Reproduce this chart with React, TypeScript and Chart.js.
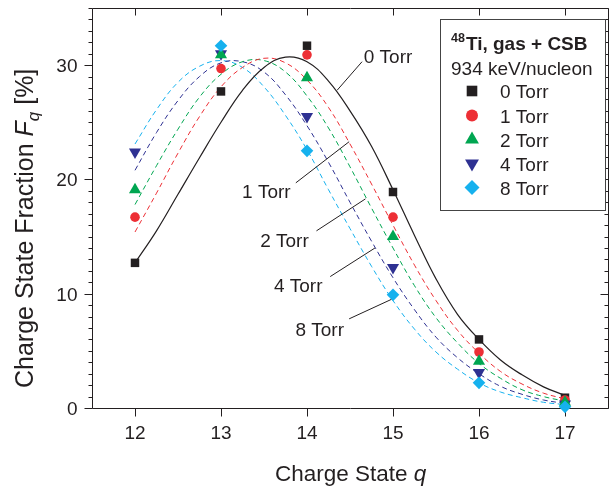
import React, { useEffect, useRef } from 'react';
import { Chart, registerables } from 'chart.js';

Chart.register(...registerables);

// ---- data ----
const chargeStates = [12, 13, 14, 15, 16, 17];
const frac0Torr = [12.7, 27.7, 31.7, 18.9, 6.0, 0.9];
const frac1Torr = [16.7, 29.7, 30.9, 16.7, 4.9, 0.7];
const frac2Torr = [19.1, 30.9, 28.9, 15.0, 4.1, 0.5];
const frac4Torr = [22.4, 31.0, 25.5, 12.3, 3.1, 0.35];
const frac8Torr = [null, 31.7, 22.5, 9.9, 2.2, 0.1];

const fitCharge = [12, 12.25, 12.5, 12.75, 13, 13.25, 13.5, 13.75, 14, 14.25, 14.5, 14.75, 15, 15.25, 15.5, 15.75, 16, 16.25, 16.5, 16.75, 17];
const fit0Torr = [12.7, 15.5, 18.7, 21.9, 25.0, 27.8, 29.8, 30.7, 30.3, 28.6, 26.0, 22.9, 19.1, 15.1, 11.3, 8.2, 6.0, 4.2, 2.9, 1.85, 1.1];
const fit1Torr = [15.4, 18.8, 22.3, 25.5, 28.1, 29.8, 30.6, 30.2, 28.7, 26.3, 23.1, 19.6, 16.0, 12.5, 9.4, 6.8, 4.8, 3.2, 2.1, 1.3, 0.8];
const fit2Torr = [17.8, 21.2, 24.4, 27.2, 29.2, 30.3, 30.4, 29.4, 27.3, 24.5, 21.1, 17.5, 14.0, 10.7, 7.9, 5.7, 3.9, 2.6, 1.6, 1.0, 0.6];
const fit4Torr = [20.8, 24.1, 26.9, 29.0, 30.2, 30.3, 29.4, 27.4, 24.7, 21.5, 18.0, 14.6, 11.4, 8.6, 6.2, 4.4, 3.0, 1.9, 1.2, 0.7, 0.4];
const fit8Torr = [23.1, 26.1, 28.5, 29.9, 30.4, 29.8, 28.1, 25.6, 22.6, 19.1, 15.7, 12.4, 9.4, 6.9, 4.9, 3.4, 2.2, 1.4, 0.9, 0.5, 0.3];

const xTickValues = [12, 13, 14, 15, 16, 17];
const yTickValues = [0, 10, 20, 30];
const seriesNames = ['0 Torr', '1 Torr', '2 Torr', '4 Torr', '8 Torr'];

// ---- styles ----
const FONT = '"Liberation Sans", Arial, Helvetica, sans-serif';
const INK = '#231f20';

const seriesStyles = [
  { color: '#231f20', point: 'rect', rotation: 0, radius: 6, legendR: 7.5, dash: [] as number[], order: 4 },
  { color: '#ed2f35', point: 'circle', rotation: 0, radius: 4.8, legendR: 6, dash: [5, 3.5], order: 3 },
  { color: '#00a651', point: 'triangle', rotation: 0, radius: 7, legendR: 8, dash: [5, 3.5], order: 1 },
  { color: '#2e3192', point: 'triangle', rotation: 180, radius: 7, legendR: 8, dash: [5, 3.5], order: 2 },
  { color: '#16b1ee', point: 'rectRot', rotation: 0, radius: 6.3, legendR: 7.5, dash: [5, 3.5], order: 0 },
];
const fracSeries = [frac0Torr, frac1Torr, frac2Torr, frac4Torr, frac8Torr];
const fitSeries = [fit0Torr, fit1Torr, fit2Torr, fit4Torr, fit8Torr];

// curve annotations (data coordinates)
const curveLabels = [
  { text: '0 Torr', fromQ: 14.35, fromF: 27.8, toQ: 14.64, toF: 30.3, textQ: 14.66, textF: 30.2, align: 'left' },
  { text: '1 Torr', fromQ: 14.49, fromF: 23.3, toQ: 13.87, toF: 19.7, textQ: 13.81, textF: 18.4, align: 'right' },
  { text: '2 Torr', fromQ: 14.68, fromF: 18.3, toQ: 14.11, toF: 15.5, textQ: 14.02, textF: 14.1, align: 'right' },
  { text: '4 Torr', fromQ: 14.79, fromF: 14.0, toQ: 14.27, toF: 11.5, textQ: 14.18, textF: 10.15, align: 'right' },
  { text: '8 Torr', fromQ: 14.98, fromF: 9.5, toQ: 14.49, toF: 7.8, textQ: 14.43, textF: 6.3, align: 'right' },
];

function drawMarker(ctx: CanvasRenderingContext2D, kind: string, rot: number, x: number, y: number, r: number, color: string) {
  ctx.save();
  ctx.fillStyle = color;
  ctx.beginPath();
  if (kind === 'rect') {
    const s = r * Math.SQRT1_2;
    ctx.rect(x - s, y - s, 2 * s, 2 * s);
  } else if (kind === 'circle') {
    ctx.arc(x, y, r, 0, Math.PI * 2);
  } else if (kind === 'triangle') {
    let a = (rot * Math.PI) / 180;
    ctx.moveTo(x + Math.sin(a) * r, y - Math.cos(a) * r);
    a += (2 * Math.PI) / 3;
    ctx.lineTo(x + Math.sin(a) * r, y - Math.cos(a) * r);
    a += (2 * Math.PI) / 3;
    ctx.lineTo(x + Math.sin(a) * r, y - Math.cos(a) * r);
    ctx.closePath();
  } else if (kind === 'rectRot') {
    ctx.moveTo(x, y - r);
    ctx.lineTo(x + r, y);
    ctx.lineTo(x, y + r);
    ctx.lineTo(x - r, y);
    ctx.closePath();
  }
  ctx.fill();
  ctx.restore();
}

const framePlugin = {
  id: 'framePlugin',
  beforeDatasetsDraw(chart: any) {
    const { ctx, chartArea } = chart;
    const xs = chart.scales.x;
    const ys = chart.scales.y;
    const L = Math.round(chartArea.left) + 0.5;
    const R = Math.round(chartArea.right) + 0.5;
    const T = Math.round(chartArea.top) + 0.5;
    const B = Math.round(chartArea.bottom) + 0.5;
    ctx.save();
    ctx.strokeStyle = INK;
    ctx.lineWidth = 1;
    ctx.beginPath();
    ctx.rect(L, T, R - L, B - T);
    ctx.stroke();
    ctx.beginPath();
    // y ticks (every 1, major every 10)
    for (let v = ys.min; v <= ys.max; v += 1) {
      const y = Math.round(ys.getPixelForValue(v)) + 0.5;
      const major = yTickValues.includes(v);
      ctx.moveTo(L - (major ? 8 : 4), y);
      ctx.lineTo(L, y);
      ctx.moveTo(R, y);
      ctx.lineTo(R - (major ? 8 : 4), y);
    }
    // x ticks
    xTickValues.forEach((v) => {
      const x = Math.round(xs.getPixelForValue(v)) + 0.5;
      ctx.moveTo(x, B);
      ctx.lineTo(x, B + 8);
      ctx.moveTo(x, T);
      ctx.lineTo(x, T + 7);
    });
    ctx.stroke();

    // tick labels
    ctx.fillStyle = INK;
    ctx.font = `19px ${FONT}`;
    ctx.textAlign = 'center';
    ctx.textBaseline = 'alphabetic';
    xTickValues.forEach((v) => {
      ctx.fillText(String(v), xs.getPixelForValue(v), 439);
    });
    ctx.textAlign = 'right';
    yTickValues.forEach((v) => {
      ctx.fillText(String(v), L - 15, ys.getPixelForValue(v) + 7);
    });

    // x title
    ctx.textAlign = 'left';
    ctx.font = `22.5px ${FONT}`;
    const xt1 = 'Charge State ';
    const w1 = ctx.measureText(xt1).width;
    const xStart = 275;
    ctx.fillText(xt1, xStart, 481);
    ctx.font = `italic 22.5px ${FONT}`;
    ctx.fillText('q', xStart + w1, 481);

    // y title (rotated)
    ctx.save();
    ctx.translate(33, 388);
    ctx.rotate(-Math.PI / 2);
    let px = 0;
    const parts = [
      { t: 'Charge State Fraction ', f: `25px ${FONT}`, dy: 0 },
      { t: 'F', f: `italic 25px ${FONT}`, dy: 0 },
      { t: 'q', f: `italic 17px ${FONT}`, dy: 6 },
      { t: ' [%]', f: `25px ${FONT}`, dy: 0 },
    ];
    parts.forEach((p) => {
      ctx.font = p.f;
      ctx.fillText(p.t, px, p.dy);
      px += ctx.measureText(p.t).width;
    });
    ctx.restore();
    ctx.restore();
  },
  afterDatasetsDraw(chart: any) {
    const { ctx } = chart;
    const xs = chart.scales.x;
    const ys = chart.scales.y;
    ctx.save();
    // curve labels with leader lines
    ctx.strokeStyle = INK;
    ctx.fillStyle = INK;
    ctx.lineWidth = 1;
    ctx.font = `19px ${FONT}`;
    curveLabels.forEach((c) => {
      ctx.beginPath();
      ctx.moveTo(xs.getPixelForValue(c.fromQ), ys.getPixelForValue(c.fromF));
      ctx.lineTo(xs.getPixelForValue(c.toQ), ys.getPixelForValue(c.toF));
      ctx.stroke();
      ctx.textAlign = c.align as CanvasTextAlign;
      ctx.fillText(c.text, xs.getPixelForValue(c.textQ), ys.getPixelForValue(c.textF));
    });

    // legend box
    const bx = 440.5, by = 19.5, bw = 165, bh = 191;
    ctx.fillStyle = '#ffffff';
    ctx.fillRect(bx, by, bw, bh);
    ctx.strokeStyle = '#444444';
    ctx.strokeRect(bx, by, bw, bh);
    ctx.fillStyle = INK;
    ctx.textAlign = 'left';
    ctx.font = `bold 12.5px ${FONT}`;
    ctx.fillText('48', 451, 42);
    const w48 = ctx.measureText('48').width;
    ctx.font = `bold 19px ${FONT}`;
    ctx.fillText('Ti, gas + CSB', 451 + w48 + 1, 50);
    ctx.font = `19px ${FONT}`;
    ctx.fillText('934 keV/nucleon', 451, 75);
    const rowY = [91, 115.5, 139.5, 163.5, 187.5];
    seriesNames.forEach((name, i) => {
      const s = seriesStyles[i];
      drawMarker(ctx, s.point, s.rotation, 472, rowY[i], s.legendR, s.color);
      ctx.fillStyle = INK;
      ctx.font = `19px ${FONT}`;
      ctx.fillText(name, 500, rowY[i] + 7);
    });
    ctx.restore();
  },
};

export default function App() {
  const canvasRef = useRef<HTMLCanvasElement | null>(null);

  useEffect(() => {
    if (!canvasRef.current) return;
    const datasets: any[] = [];
    seriesNames.forEach((name, i) => {
      const s = seriesStyles[i];
      datasets.push({
        label: name + ' fit',
        type: 'scatter',
        showLine: true,
        data: fitCharge.map((q, k) => ({ x: q, y: fitSeries[i][k] })),
        borderColor: s.color,
        borderWidth: i === 0 ? 1.2 : 1,
        borderDash: s.dash,
        pointRadius: 0,
        tension: 0.4,
        fill: false,
        order: 10 + i,
      });
    });
    seriesNames.forEach((name, i) => {
      const s = seriesStyles[i];
      const pts = chargeStates
        .map((q, k) => ({ x: q, y: fracSeries[i][k] }))
        .filter((p) => p.y !== null);
      datasets.push({
        label: name,
        type: 'scatter',
        showLine: false,
        data: pts,
        backgroundColor: s.color,
        borderColor: s.color,
        borderWidth: 0,
        pointStyle: s.point,
        rotation: s.rotation,
        pointRadius: s.radius,
        clip: false,
        order: s.order,
      });
    });

    const chart = new Chart(canvasRef.current, {
      type: 'scatter',
      data: { datasets },
      options: {
        responsive: false,
        devicePixelRatio: 1,
        animation: false,
        events: [],
        layout: { padding: { left: 92, top: 8, right: 1, bottom: 81 } },
        scales: {
          x: { type: 'linear', min: 11.5, max: 17.5, display: false },
          y: { type: 'linear', min: 0, max: 35, display: false },
        },
        plugins: {
          legend: { display: false },
          tooltip: { enabled: false },
        },
      },
      plugins: [framePlugin],
    } as any);
    return () => chart.destroy();
  }, []);

  return (
    <div style={{ position: 'fixed', left: 0, top: 0, width: 615, height: 489, background: '#ffffff' }}>
      <canvas ref={canvasRef} width={615} height={489} style={{ display: 'block' }} />
    </div>
  );
}
